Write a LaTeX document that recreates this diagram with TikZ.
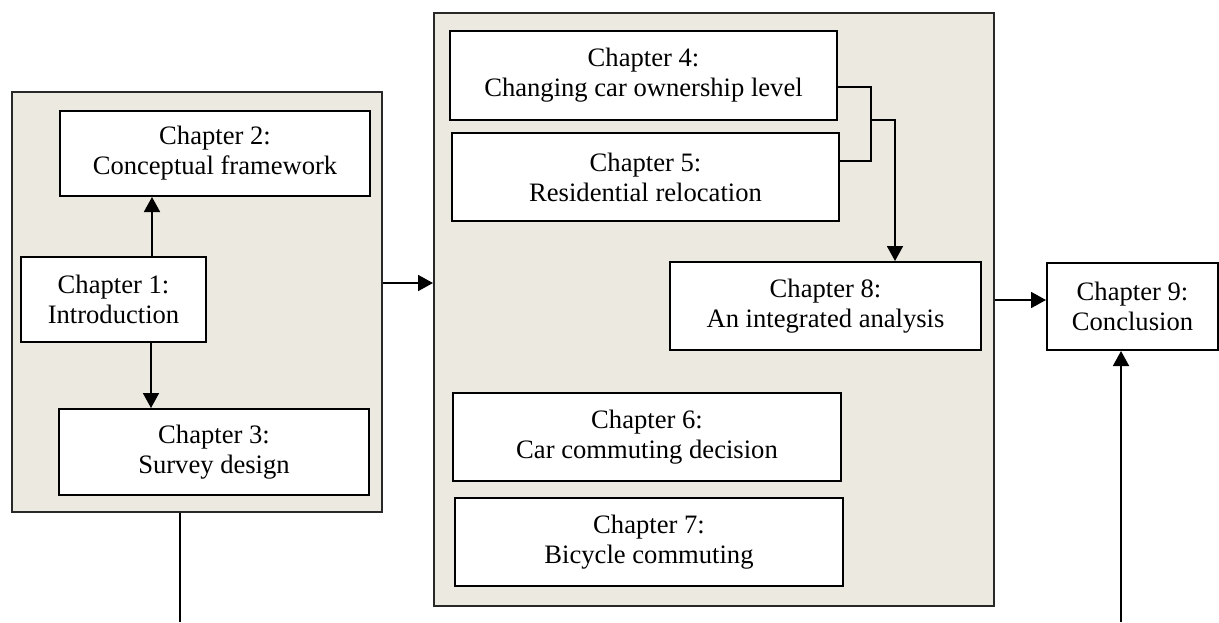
\documentclass[tikz,border=0pt]{standalone}
\usepackage{fontspec}
\setmainfont{Liberation Serif}
\usetikzlibrary{arrows.meta}
\definecolor{panelfill}{RGB}{236,233,224}
\definecolor{panelline}{RGB}{40,40,40}
\begin{document}
\begin{tikzpicture}[x=0.5pt,y=-0.5pt,
  panel/.style={draw=panelline,line width=1pt,fill=panelfill,rectangle,inner sep=0pt},
  chapbox/.style={draw=black,line width=1pt,fill=white,rectangle,inner sep=0pt,align=center,
    font=\fontsize{13.3}{15}\selectfont},
  link/.style={line width=0.9pt,draw=black},
  arrow/.style={link,-{Triangle[length=7.5pt,width=8pt]}}]
\useasboundingbox (0,0) rectangle (1219,622);

% grey panels
\node[panel,minimum width=185pt,minimum height=210pt] (left) at (197,302) {};
\node[panel,minimum width=280pt,minimum height=296.5pt] (mid) at (714,309.5) {};

% chapter boxes
\node[chapbox,minimum width=92.5pt,minimum height=42.5pt] (ch1) at (113.5,299.5) {Chapter 1:\\Introduction};
\node[chapbox,minimum width=155pt,minimum height=42.5pt] (ch2) at (215,153.5) {Chapter 2:\\Conceptual framework};
\node[chapbox,minimum width=155pt,minimum height=43pt] (ch3) at (214,452) {Chapter 3:\\Survey design};
\node[chapbox,minimum width=193.5pt,minimum height=44.5pt] (ch4) at (643.5,75.5) {Chapter 4:\\Changing car ownership level};
\node[chapbox,minimum width=193.5pt,minimum height=44pt] (ch5) at (645.5,177) {Chapter 5:\\Residential relocation};
\node[chapbox,minimum width=194pt,minimum height=44pt] (ch6) at (647,437) {Chapter 6:\\Car commuting decision};
\node[chapbox,minimum width=194pt,minimum height=44pt] (ch7) at (649,542) {Chapter 7:\\Bicycle commuting};
\node[chapbox,minimum width=155.5pt,minimum height=44pt] (ch8) at (825.5,306) {Chapter 8:\\An integrated analysis};
\node[chapbox,minimum width=85.5pt,minimum height=43.5pt] (ch9) at (1132.5,306.5) {Chapter 9:\\Conclusion};

% guide coordinates for the connectors
\coordinate (up12) at (152,0);
\coordinate (dn13) at (151,0);
\coordinate (lr) at (0,283);
\coordinate (mr) at (0,300);
\coordinate (leftfoot) at (180,622);
\coordinate (rightfoot) at (1121,622);
\coordinate (r4) at (0,87);
\coordinate (r5) at (0,161);
\coordinate (bx) at (871,120);
\coordinate (dx) at (895,120);

% connectors inside the left panel
\draw[arrow] (ch1.north -| up12) -- (ch2.south -| up12);
\draw[arrow] (ch1.south -| dn13) -- (ch3.north -| dn13);

% panel to panel, panel to conclusion
\draw[arrow] (left.east |- lr) -- (mid.west |- lr);
\draw[arrow] (mid.east |- mr) -- (ch9.west |- mr);
\draw[link] (left.south -| leftfoot) -- (leftfoot);
\draw[arrow] (rightfoot) -- (ch9.south -| rightfoot);

% bracket joining chapters 4 and 5, feeding chapter 8
\draw[link] (ch4.east |- r4) -- (bx |- r4) -- (bx |- r5) -- (ch5.east |- r5);
\draw[arrow] (bx) -- (dx) -- (ch8.north -| dx);
\end{tikzpicture}
\end{document}
